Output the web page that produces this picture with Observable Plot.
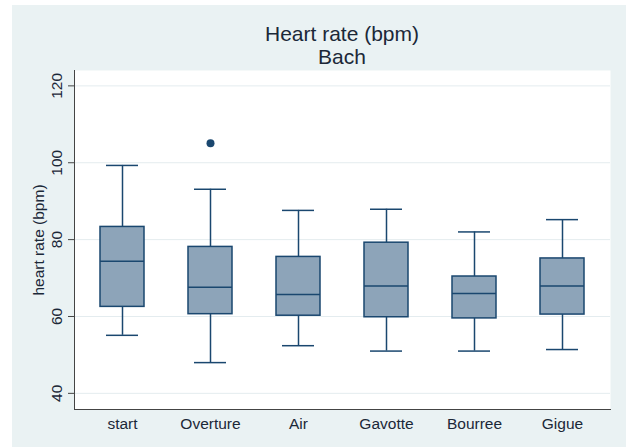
<!DOCTYPE html>
<html>
<head>
<meta charset="utf-8">
<script src="https://cdn.jsdelivr.net/npm/d3@7"></script>
<script src="https://cdn.jsdelivr.net/npm/@observablehq/plot@0.6"></script>
<style>
  html, body { margin: 0; padding: 0; background: #ffffff; }
  body { width: 626px; height: 447px; position: relative; overflow: hidden; font-family: "Liberation Sans", Arial, sans-serif; }
  #bg { position: absolute; left: 12px; top: 5px; width: 614px; height: 442px; background: #eaf2f3; }
  .title { position: absolute; left: 74px; width: 536px; text-align: center; font-size: 21px; line-height: 23px; color: #1b2838; }
  #chart { position: absolute; left: 0; top: 65px; }
</style>
</head>
<body>
<div id="bg"></div>
<div class="title" style="top:22px">Heart rate (bpm)</div>
<div class="title" style="top:45px">Bach</div>
<div id="chart"></div>
<script>
const categories = ["start", "Overture", "Air", "Gavotte", "Bourree", "Gigue"];
const whiskerLow  = [55.1, 48.0, 52.4, 51.0, 51.0, 51.4];
const q1          = [62.5, 60.6, 60.2, 59.8, 59.5, 60.5];
const median      = [74.4, 67.6, 65.7, 67.9, 66.0, 67.9];
const q3          = [83.3, 78.1, 75.5, 79.2, 70.4, 75.1];
const whiskerHigh = [99.3, 93.1, 87.6, 87.9, 82.0, 85.2];
const outlierCats = ["Overture"];
const outlierVals = [105.1];
const yTicks = [40, 60, 80, 100, 120];

const boxes = categories.map((c, i) => ({cat: c, lo: whiskerLow[i], q1: q1[i], med: median[i], q3: q3[i], hi: whiskerHigh[i]}));
const outliers = outlierCats.map((c, i) => ({cat: c, value: outlierVals[i]}));

const navy = "#1a476f";
const fillBox = "#8da4b9";

const chart = Plot.plot({
  width: 626,
  height: 382,
  marginLeft: 74,
  marginRight: 16,
  marginTop: 5,
  marginBottom: 38,
  style: {fontFamily: "Liberation Sans, Arial, sans-serif", fontSize: "15px", background: "transparent", color: "#1b2838"},
  x: {type: "band", domain: categories, padding: 0.07},
  y: {domain: [35.8, 124]},
  marks: [
    Plot.frame({fill: "white", stroke: null}),
    Plot.ruleY(yTicks, {stroke: "#e4ecef", strokeWidth: 1}),
    Plot.axisY({ticks: yTicks, tickSize: 6, tickPadding: 7, tickRotate: -90, stroke: "#444", fill: "#1b2838", fontSize: 15.5,
      label: "heart rate (bpm)", labelAnchor: "center", labelOffset: 42, labelArrow: "none"}),
    Plot.axisX({tickSize: 0, tickPadding: 8, label: null, fill: "#1b2838", fontSize: 15.5}),
    Plot.ruleX(boxes, {x: "cat", y1: "lo", y2: "q1", stroke: navy, strokeWidth: 1.5}),
    Plot.ruleX(boxes, {x: "cat", y1: "q3", y2: "hi", stroke: navy, strokeWidth: 1.5}),
    Plot.tickY(boxes, {x: "cat", y: "lo", stroke: navy, strokeWidth: 1.5, insetLeft: 25, insetRight: 25}),
    Plot.tickY(boxes, {x: "cat", y: "hi", stroke: navy, strokeWidth: 1.5, insetLeft: 25, insetRight: 25}),
    Plot.barY(boxes, {x: "cat", y1: "q1", y2: "q3", fill: fillBox, stroke: navy, strokeWidth: 1.5, insetLeft: 19, insetRight: 19}),
    Plot.tickY(boxes, {x: "cat", y: "med", stroke: navy, strokeWidth: 1.5, insetLeft: 19, insetRight: 19}),
    Plot.dot(outliers, {x: "cat", y: "value", r: 4, fill: navy, stroke: null}),
    Plot.frame({anchor: "left", stroke: "#444"}),
    Plot.frame({anchor: "bottom", stroke: "#444"})
  ]
});
document.getElementById("chart").appendChild(chart);
</script>
</body>
</html>
